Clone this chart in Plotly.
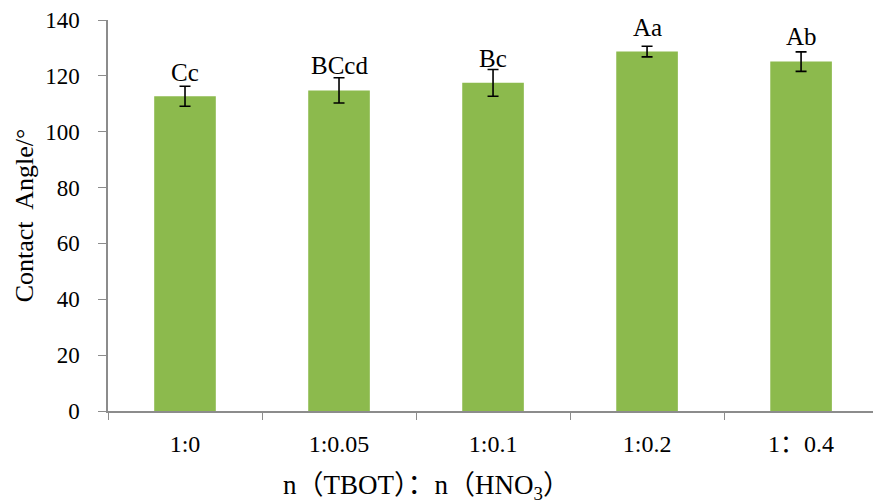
import plotly.graph_objects as go

# Contact angle for each TBOT:HNO3 molar ratio
ratios = ["1:0", "1:0.05", "1:0.1", "1:0.2", "1：0.4"]
contact_angle = [112.7, 114.8, 117.5, 128.7, 125.1]
std_dev = [3.6, 4.5, 4.8, 1.9, 3.5]
significance = ["Cc", "BCcd", "Bc", "Aa", "Ab"]

# pixel gap between the top of each error bar and its letter label
label_gap = [14, 12, 11, 19, 15]

SERIF = "Liberation Serif, Times New Roman, Noto Sans CJK SC, serif"
AXIS_GREY = "#8c8c8c"

fig = go.Figure(
    go.Bar(
        x=ratios,
        y=contact_angle,
        marker=dict(color="#8cba4d", line=dict(width=0)),
        error_y=dict(
            type="data",
            array=std_dev,
            visible=True,
            color="black",
            thickness=1.6,
            width=5.5,
        ),
        showlegend=False,
    )
)

for r, v, e, s, g in zip(ratios, contact_angle, std_dev, significance, label_gap):
    fig.add_annotation(
        x=r,
        y=v + e,
        text=s,
        showarrow=False,
        yanchor="middle",
        yshift=g,
        font=dict(family=SERIF, size=25, color="black"),
    )

# x-axis title sits below the tick labels
fig.add_annotation(
    xref="paper",
    yref="paper",
    x=(426 - 108) / 765,
    y=-(487 - 411) / 391,
    text="n（TBOT）：n（HNO<sub>3</sub>）",
    showarrow=False,
    xanchor="center",
    yanchor="middle",
    font=dict(family=SERIF, size=27, color="black"),
)

fig.update_layout(
    width=873,
    height=504,
    margin=dict(l=108, r=0, t=20, b=93),
    paper_bgcolor="white",
    plot_bgcolor="white",
    bargap=0.6,
    font=dict(family=SERIF, color="black"),
)

fig.update_xaxes(
    type="category",
    range=[-0.5, 4.467],
    showgrid=False,
    showline=True,
    linecolor=AXIS_GREY,
    linewidth=1.5,
    ticks="outside",
    tickson="boundaries",
    ticklen=7,
    tickcolor=AXIS_GREY,
    tickwidth=1.2,
    ticklabelstandoff=10,
    tickfont=dict(family=SERIF, size=24, color="black"),
    zeroline=False,
)

fig.update_yaxes(
    range=[0, 140],
    dtick=20,
    showgrid=False,
    showline=True,
    linecolor=AXIS_GREY,
    linewidth=1.5,
    ticks="outside",
    ticklen=8,
    tickcolor=AXIS_GREY,
    tickwidth=1.2,
    ticklabelstandoff=14,
    tickfont=dict(family=SERIF, size=23, color="black"),
    zeroline=False,
    title=dict(
        text="Contact  Angle/°",
        font=dict(family=SERIF, size=26, color="black"),
        standoff=4,
    ),
)

fig.write_html("out.html")
